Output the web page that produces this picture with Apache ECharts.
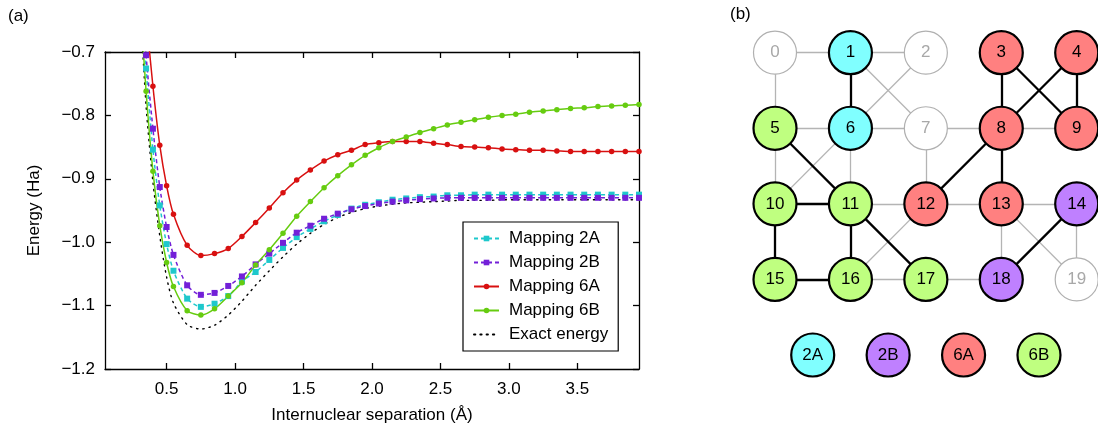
<!DOCTYPE html>
<html>
<head>
<meta charset="utf-8">
<script src="https://cdn.jsdelivr.net/npm/echarts@6/dist/echarts.min.js"></script>
<style>
html,body{margin:0;padding:0;background:#fff;}
#c{width:1098px;height:435px;}
</style>
</head>
<body>
<div id="c"></div>
<script>
// ---------- Panel (a) data ----------
const separation = [0.3, 0.35, 0.4, 0.45, 0.5, 0.55, 0.65, 0.75, 0.85, 0.95, 1.05, 1.15, 1.25, 1.35, 1.45, 1.55, 1.65, 1.75, 1.85, 1.95, 2.05, 2.15, 2.25, 2.35, 2.45, 2.55, 2.65, 2.75, 2.85, 2.95, 3.05, 3.15, 3.25, 3.35, 3.45, 3.55, 3.65, 3.75, 3.85, 3.95];
const mapping2A = [-0.57, -0.726, -0.854, -0.942, -1.003, -1.045, -1.089, -1.102, -1.097, -1.085, -1.062, -1.047, -1.028, -1.009, -0.992, -0.979, -0.967, -0.957, -0.947, -0.941, -0.937, -0.933, -0.931, -0.929, -0.928, -0.926, -0.926, -0.925, -0.925, -0.925, -0.925, -0.925, -0.925, -0.925, -0.925, -0.925, -0.925, -0.925, -0.925, -0.925];
const mapping2B = [-0.55, -0.705, -0.821, -0.913, -0.976, -1.020, -1.068, -1.083, -1.080, -1.069, -1.054, -1.035, -1.018, -1.001, -0.985, -0.974, -0.963, -0.955, -0.948, -0.943, -0.939, -0.936, -0.934, -0.932, -0.931, -0.930, -0.930, -0.930, -0.930, -0.930, -0.930, -0.930, -0.930, -0.930, -0.930, -0.930, -0.930, -0.930, -0.930, -0.930];
const mapping6A = [-0.50, -0.64, -0.754, -0.847, -0.911, -0.956, -1.005, -1.021, -1.018, -1.010, -0.991, -0.969, -0.946, -0.922, -0.902, -0.886, -0.872, -0.862, -0.855, -0.846, -0.843, -0.841, -0.841, -0.841, -0.844, -0.846, -0.849, -0.850, -0.851, -0.853, -0.854, -0.855, -0.855, -0.856, -0.857, -0.857, -0.857, -0.857, -0.857, -0.857];
const mapping6B = [-0.60, -0.762, -0.888, -0.974, -1.032, -1.070, -1.108, -1.115, -1.105, -1.085, -1.064, -1.036, -1.012, -0.986, -0.959, -0.936, -0.914, -0.895, -0.878, -0.863, -0.851, -0.841, -0.834, -0.827, -0.821, -0.815, -0.811, -0.807, -0.803, -0.800, -0.798, -0.795, -0.793, -0.791, -0.789, -0.788, -0.786, -0.785, -0.784, -0.783];
const exactEnergy = [-0.60, -0.785, -0.905, -0.990, -1.055, -1.096, -1.130, -1.137, -1.131, -1.115, -1.093, -1.068, -1.045, -1.023, -1.003, -0.986, -0.972, -0.961, -0.953, -0.947, -0.943, -0.940, -0.938, -0.937, -0.936, -0.935, -0.934, -0.934, -0.934, -0.933, -0.933, -0.933, -0.933, -0.933, -0.933, -0.933, -0.933, -0.933, -0.933, -0.933];
const xTicks = [0.5, 1.0, 1.5, 2.0, 2.5, 3.0, 3.5];
const yTicks = [-1.2, -1.1, -1.0, -0.9, -0.8, -0.7];

// ---------- Panel (b) data ----------
const nodeNames = ['0','1','2','3','4','5','6','7','8','9','10','11','12','13','14','15','16','17','18','19'];
const nodeCol = [0,1,2,3,4, 0,1,2,3,4, 0,1,2,3,4, 0,1,2,3,4];
const nodeRow = [0,0,0,0,0, 1,1,1,1,1, 2,2,2,2,2, 3,3,3,3,3];
const nodeMapping = ['', '2A', '', '6A', '6A', '6B', '2A', '', '6A', '6A', '6B', '6B', '6A', '6A', '2B', '6B', '6B', '6B', '2B', ''];
const grayEdges = [[0,1],[1,2],[0,5],[1,7],[2,6],[5,6],[6,7],[7,8],[8,9],[5,10],[6,10],[6,11],[7,12],[11,12],[12,13],[13,14],[12,16],[16,17],[17,18],[13,18],[13,19],[14,19]];
const mappedEdges = [[1,6],[5,11],[10,11],[10,15],[11,16],[15,16],[11,17],[3,8],[3,9],[4,8],[4,9],[8,12],[8,13],[14,18]];
const keyNames = ['2A','2B','6A','6B'];
const keyCol = [0.5, 1.5, 2.5, 3.5];
const keyRow = [4, 4, 4, 4];

const FONT = 'Liberation Sans, Arial, Helvetica, sans-serif';
const FS = 17;
const lineColors = {'2A':'#1ec8cc', '2B':'#7320d8', '6A':'#d81010', '6B':'#66cc10'};
const fillColors = {'2A':'#80ffff', '2B':'#bf80ff', '6A':'#ff8080', '6B':'#bfff80'};
const fmt = v => (Math.round(v*10)/10).toFixed(1).replace('-', '\u2212');

function pairs(ys){ return separation.map((x,i)=>[x, ys[i]]); }

function lineSeries(name, ys, color, symbol, dashed){
  return {
    name, type:'line', xAxisIndex:0, yAxisIndex:0, data: pairs(ys), clip:true,
    symbol, symbolSize: symbol==='rect' ? 6 : 5.5, showSymbol:true,
    smooth:0.25,
    itemStyle:{color},
    lineStyle:{color, width:1.5, type: dashed ? [4,3] : 'solid'},
    emphasis:{disabled:true}, animation:false, z:3
  };
}

// graph nodes
const graphNodes = nodeNames.map((n,i)=>{
  const m = nodeMapping[i];
  return {
    name:n, value:[nodeCol[i], nodeRow[i]],
    itemStyle: m ? {color:fillColors[m], borderColor:'#000', borderWidth:2.2}
                 : {color:'#fff', borderColor:'#b0b0b0', borderWidth:1.2},
    label:{color: m ? '#000' : '#a8a8a8'}
  };
});
keyNames.forEach((k,i)=>{
  graphNodes.push({
    name:k, value:[keyCol[i], keyRow[i]],
    itemStyle:{color:fillColors[k], borderColor:'#000', borderWidth:2.2},
    label:{color:'#000'}
  });
});
const graphLinks = grayEdges.map(e=>({source:String(e[0]), target:String(e[1]), lineStyle:{color:'#b4b4b4', width:1.3, opacity:1}}))
  .concat(mappedEdges.map(e=>({source:String(e[0]), target:String(e[1]), lineStyle:{color:'#000', width:2.3, opacity:1}})));

const chart = echarts.init(document.getElementById('c'), null, {renderer:'canvas'});
chart.setOption({
  animation:false,
  backgroundColor:'#fff',
  textStyle:{fontFamily:FONT},
  title:[
    {text:'(a)', left:8, top:8, padding:0, textStyle:{fontFamily:FONT, fontSize:FS, fontWeight:'normal', color:'#000'}},
    {text:'(b)', left:730, top:6, padding:0, textStyle:{fontFamily:FONT, fontSize:FS, fontWeight:'normal', color:'#000'}}
  ],
  grid:[
    {left:105, top:52, right:459, bottom:66},
    {left:775, top:52.7, width:301.7, height:302.3}
  ],
  xAxis:[
    {type:'value', gridIndex:0, min:0.05, max:3.95, position:'bottom',
     name:'Internuclear separation (\u00c5)', nameLocation:'middle', nameGap:38,
     nameTextStyle:{fontFamily:FONT, fontSize:FS, color:'#000'},
     axisLine:{onZero:false, lineStyle:{color:'#000', width:1.3}},
     axisTick:{inside:true, length:6, customValues:xTicks, lineStyle:{color:'#000', width:1.3}},
     axisLabel:{customValues:xTicks, formatter:v=>fmt(v), margin:12, fontFamily:FONT, fontSize:FS, color:'#000'},
     splitLine:{show:false}},
    {type:'value', gridIndex:0, min:0.05, max:3.95, position:'top',
     axisLine:{onZero:false, lineStyle:{color:'#000', width:1.3}},
     axisTick:{inside:true, length:6, customValues:xTicks, lineStyle:{color:'#000', width:1.3}},
     axisLabel:{show:false}, splitLine:{show:false}},
    {type:'value', gridIndex:1, min:0, max:4, show:false}
  ],
  yAxis:[
    {type:'value', gridIndex:0, min:-1.2, max:-0.7, interval:0.1, position:'left',
     name:'Energy (Ha)', nameLocation:'middle', nameGap:62,
     nameTextStyle:{fontFamily:FONT, fontSize:FS, color:'#000'},
     axisLine:{show:true, onZero:false, lineStyle:{color:'#000', width:1.3}},
     axisTick:{inside:true, length:6, customValues:yTicks, lineStyle:{color:'#000', width:1.3}},
     axisLabel:{customValues:yTicks, formatter:v=>fmt(v), margin:10, fontFamily:FONT, fontSize:FS, color:'#000'},
     splitLine:{show:false}},
    {type:'value', gridIndex:0, min:-1.2, max:-0.7, interval:0.1, position:'right',
     axisLine:{show:true, onZero:false, lineStyle:{color:'#000', width:1.3}},
     axisTick:{inside:true, length:6, customValues:yTicks, lineStyle:{color:'#000', width:1.3}},
     axisLabel:{show:false}, splitLine:{show:false}},
    {type:'value', gridIndex:1, min:0, max:4, inverse:true, show:false}
  ],
  legend:{
    show:true, orient:'vertical', left:463, top:222,
    data:['Mapping 2A','Mapping 2B','Mapping 6A','Mapping 6B',{name:'Exact energy', itemStyle:{opacity:0}}],
    backgroundColor:'#fff', borderColor:'#000', borderWidth:1.2,
    padding:[8,10,8,10], itemGap:7, itemWidth:25, itemHeight:7,
    textStyle:{fontFamily:FONT, fontSize:FS, color:'#000', padding:[0,0,0,5]},
    selectedMode:false
  },
  series:[
    lineSeries('Mapping 2A', mapping2A, lineColors['2A'], 'rect', true),
    lineSeries('Mapping 2B', mapping2B, lineColors['2B'], 'rect', true),
    lineSeries('Mapping 6A', mapping6A, lineColors['6A'], 'circle', false),
    lineSeries('Mapping 6B', mapping6B, lineColors['6B'], 'circle', false),
    {name:'Exact energy', type:'line', xAxisIndex:0, yAxisIndex:0, data:pairs(exactEnergy), clip:true,
     symbol:'none', smooth:0.25, itemStyle:{color:'#000'},
     lineStyle:{color:'#000', width:1.4, type:[1.3,5], cap:'round'}, emphasis:{disabled:true}, z:2},
    {type:'graph', coordinateSystem:'cartesian2d', xAxisIndex:2, yAxisIndex:2, layout:'none',
     symbol:'circle', symbolSize:43, roam:false,
     data:graphNodes, links:graphLinks,
     lineStyle:{opacity:1},
     label:{show:true, position:'inside', fontFamily:FONT, fontSize:FS, formatter:p=>p.name},
     emphasis:{disabled:true}, z:2}
  ]
});
</script>
</body>
</html>
